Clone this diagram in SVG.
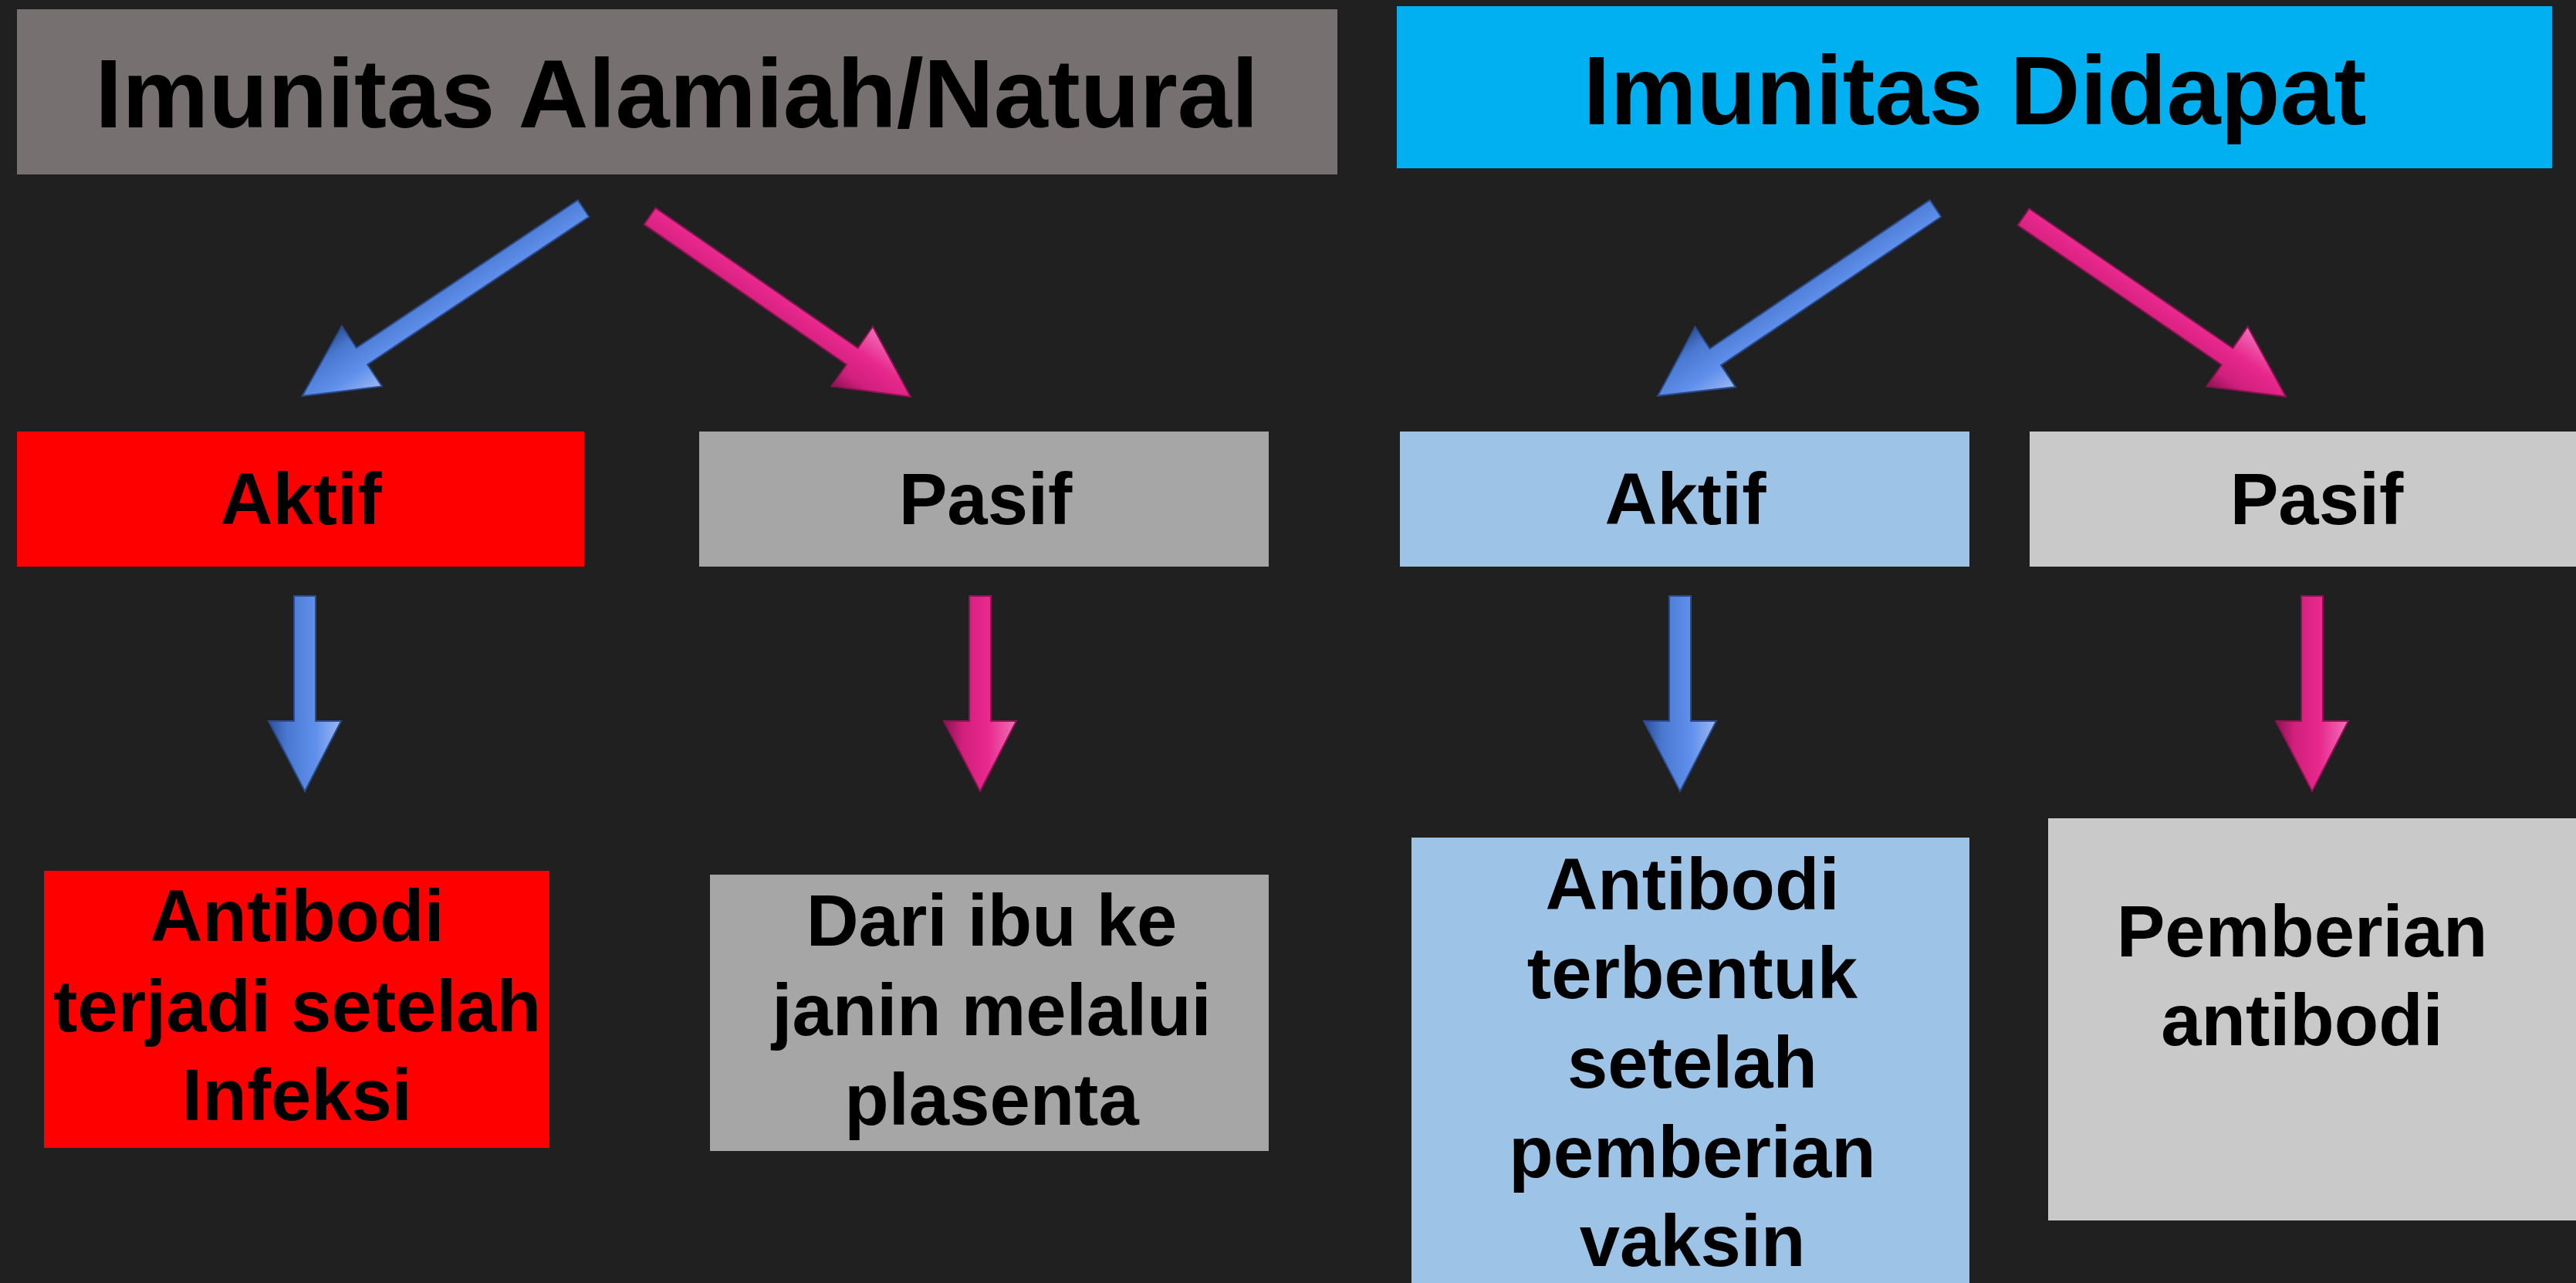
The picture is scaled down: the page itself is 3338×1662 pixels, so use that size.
<svg xmlns="http://www.w3.org/2000/svg" width="3338" height="1662" viewBox="0 0 3338 1662">
<defs>
<linearGradient id="gBlue" x1="0" y1="0" x2="0" y2="1">
<stop offset="0" stop-color="#9db8f0"/>
<stop offset="0.35" stop-color="#5f90ec"/>
<stop offset="0.75" stop-color="#4a78d0"/>
<stop offset="1" stop-color="#2e4f96"/>
</linearGradient>
<linearGradient id="gPink" x1="0" y1="0" x2="0" y2="1">
<stop offset="0" stop-color="#f070b8"/>
<stop offset="0.4" stop-color="#e8288c"/>
<stop offset="0.75" stop-color="#d01f7c"/>
<stop offset="1" stop-color="#8a1452"/>
</linearGradient>
</defs>
<style>
.t{font-family:"Liberation Sans",Arial,sans-serif;font-weight:bold;fill:#000;text-anchor:middle}
.big{font-size:126px}
.mid{font-size:94px}
.ab{fill:url(#gBlue);stroke:#2a4a8a;stroke-width:2}
.ap{fill:url(#gPink);stroke:#8a1452;stroke-width:2}
</style>
<rect width="3338" height="1662" fill="#202020"/>
<g id="connectors">
<g transform="translate(756,270) rotate(146.3)"><path class="ab" d="M0,-13 L345,-13 L345,-47 L438,0 L345,47 L345,13 L0,13 Z"/></g>
<g transform="translate(842,280) rotate(34.7)"><path class="ap" d="M0,-13 L319,-13 L319,-47 L411,0 L319,47 L319,13 L0,13 Z"/></g>
<g transform="translate(2508,270) rotate(146)"><path class="ab" d="M0,-13 L344,-13 L344,-47 L434,0 L344,47 L344,13 L0,13 Z"/></g>
<g transform="translate(2622,281) rotate(34.4)"><path class="ap" d="M0,-13 L320,-13 L320,-47 L412,0 L320,47 L320,13 L0,13 Z"/></g>
<g transform="translate(395,772) rotate(90)"><path class="ab" d="M0,-14 L162,-14 L162,-47 L253,0 L162,47 L162,14 L0,14 Z"/></g>
<g transform="translate(1270,772) rotate(90)"><path class="ap" d="M0,-14 L162,-14 L162,-47 L253,0 L162,47 L162,14 L0,14 Z"/></g>
<g transform="translate(2177,772) rotate(90)"><path class="ab" d="M0,-14 L162,-14 L162,-47 L253,0 L162,47 L162,14 L0,14 Z"/></g>
<g transform="translate(2996,772) rotate(90)"><path class="ap" d="M0,-14 L162,-14 L162,-47 L253,0 L162,47 L162,14 L0,14 Z"/></g>
</g>
<g id="natural">
<rect x="22" y="12" width="1711" height="214" fill="#767170"/>
<text class="t big" x="877" y="165">Imunitas Alamiah/Natural</text>
</g>
<g id="didapat">
<rect x="1810" y="8" width="1497" height="210" fill="#00b0f0"/>
<text class="t big" x="2559" y="161">Imunitas Didapat</text>
</g>
<g id="aktif-natural">
<rect x="22" y="559" width="735" height="175" fill="#ff0000"/>
<text class="t mid" x="390" y="679">Aktif</text>
</g>
<g id="pasif-natural">
<rect x="906" y="559" width="738" height="175" fill="#a6a6a6"/>
<text class="t mid" x="1277" y="679">Pasif</text>
</g>
<g id="aktif-didapat">
<rect x="1814" y="559" width="738" height="175" fill="#9dc3e6"/>
<text class="t mid" x="2184" y="679">Aktif</text>
</g>
<g id="pasif-didapat">
<rect x="2630" y="559" width="708" height="175" fill="#c9c9c9"/>
<text class="t mid" x="3002" y="679">Pasif</text>
</g>
<g id="infeksi">
<rect x="57" y="1128" width="655" height="359" fill="#ff0000"/>
<text class="t mid" x="385" y="1219">Antibodi</text>
<text class="t mid" x="385" y="1336">terjadi setelah</text>
<text class="t mid" x="385" y="1451">Infeksi</text>
</g>
<g id="plasenta">
<rect x="920" y="1133" width="724" height="358" fill="#a6a6a6"/>
<text class="t mid" x="1285" y="1225">Dari ibu ke</text>
<text class="t mid" x="1285" y="1341">janin melalui</text>
<text class="t mid" x="1285" y="1457">plasenta</text>
</g>
<g id="vaksin">
<rect x="1829" y="1085" width="723" height="577" fill="#9dc3e6"/>
<text class="t mid" x="2193" y="1178">Antibodi</text>
<text class="t mid" x="2193" y="1293">terbentuk</text>
<text class="t mid" x="2193" y="1409">setelah</text>
<text class="t mid" x="2193" y="1525">pemberian</text>
<text class="t mid" x="2193" y="1640">vaksin</text>
</g>
<g id="pemberian-antibodi">
<rect x="2654" y="1060" width="684" height="521" fill="#c9c9c9"/>
<text class="t mid" x="2983" y="1239">Pemberian</text>
<text class="t mid" x="2983" y="1354">antibodi</text>
</g>
</svg>
